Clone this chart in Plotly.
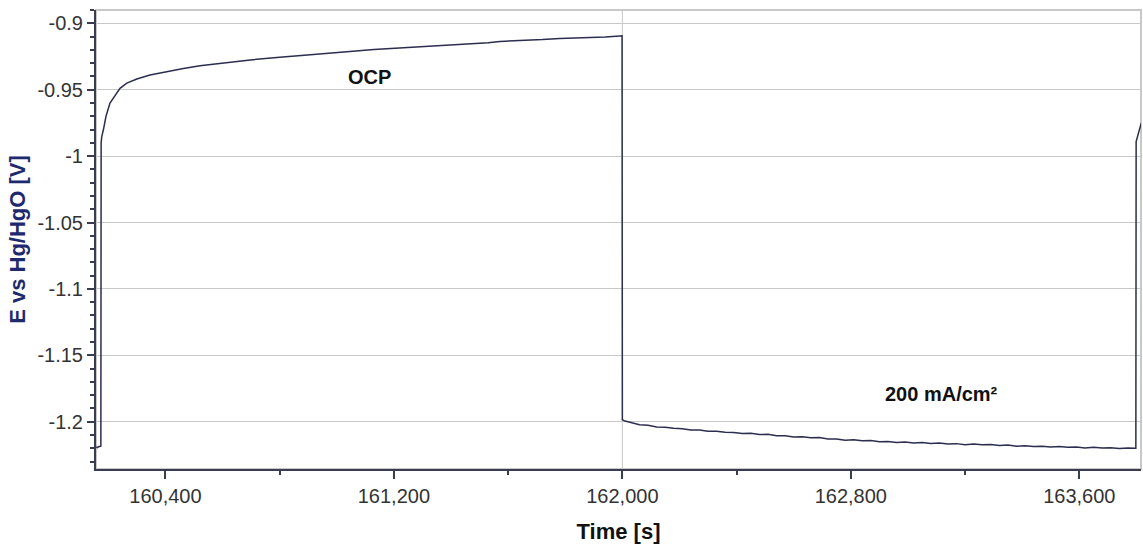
import plotly.graph_objects as go

# OCP (rest) segment
ocp_time = [160158, 160162, 160166, 160170, 160174, 160175, 160177, 160183, 160192, 160206,
            160224, 160241, 160265, 160300, 160346, 160405, 160463, 160521, 160600, 160697,
            160790, 160871, 160960, 161046, 161130, 161221, 161310, 161396, 161440, 161480,
            161530, 161571, 161620, 161660, 161720, 161781, 161830, 161880, 161940, 161991, 161999]
ocp_potential = [-1.2190, -1.2195, -1.2188, -1.2186, -1.2184, -0.9900, -0.9855, -0.9800, -0.9700, -0.9600,
                 -0.9540, -0.9490, -0.9450, -0.9420, -0.9390, -0.9364, -0.9340, -0.9320, -0.9300, -0.9276,
                 -0.9258, -0.9242, -0.9225, -0.9212, -0.9197, -0.9186, -0.9172, -0.9160, -0.9156, -0.9150,
                 -0.9146, -0.9137, -0.9133, -0.9127, -0.9123, -0.9114, -0.9112, -0.9106, -0.9103, -0.9096, -0.9095]

# 200 mA/cm2 segment
load_time = [162000, 162009, 162030, 162060, 162090, 162120, 162150, 162180, 162210, 162240,
             162270, 162300, 162330, 162360, 162390, 162420, 162450, 162480, 162510, 162540,
             162570, 162600, 162630, 162660, 162690, 162720, 162750, 162780, 162810, 162840,
             162870, 162900, 162930, 162960, 162990, 163020, 163050, 163080, 163110, 163140,
             163170, 163200, 163230, 163260, 163290, 163320, 163350, 163380, 163410, 163440,
             163470, 163500, 163530, 163560, 163590, 163620, 163650, 163680, 163710, 163740,
             163770, 163798]
load_potential = [-1.1985, -1.1995, -1.2006, -1.2023, -1.2027, -1.2039, -1.2041, -1.2050, -1.2053, -1.2063,
                  -1.2062, -1.2072, -1.2071, -1.2080, -1.2081, -1.2089, -1.2087, -1.2096, -1.2095, -1.2105,
                  -1.2106, -1.2115, -1.2113, -1.2120, -1.2119, -1.2130, -1.2131, -1.2139, -1.2136, -1.2144,
                  -1.2141, -1.2151, -1.2149, -1.2157, -1.2153, -1.2160, -1.2157, -1.2164, -1.2161, -1.2167,
                  -1.2165, -1.2173, -1.2168, -1.2174, -1.2172, -1.2179, -1.2176, -1.2184, -1.2180, -1.2187,
                  -1.2184, -1.2190, -1.2187, -1.2192, -1.2190, -1.2197, -1.2192, -1.2198, -1.2196, -1.2201,
                  -1.2198, -1.2200]

# next rest segment start
rest2_time = [163799, 163817]
rest2_potential = [-0.9890, -0.9750]

x_tickvals = [160400, 161200, 162000, 162800, 163600]
x_ticktext = ["160,400", "161,200", "162,000", "162,800", "163,600"]
y_tickvals = [-0.9, -0.95, -1.0, -1.05, -1.1, -1.15, -1.2]
y_ticktext = ["-0.9", "-0.95", "-1", "-1.05", "-1.1", "-1.15", "-1.2"]

marker_time = 162000
x_range = [160157, 163816]
y_range = [-1.2356, -0.8900]

FONT = "Arial, 'Liberation Sans', sans-serif"

time = ocp_time + load_time + rest2_time
potential = ocp_potential + load_potential + rest2_potential

fig = go.Figure()
fig.add_trace(go.Scatter(x=time, y=potential, mode="lines",
                         line=dict(color="#2b2e4e", width=1.5), showlegend=False,
                         hoverinfo="skip"))

fig.add_shape(type="rect", xref="paper", yref="paper", x0=0, x1=1, y0=0, y1=1,
              line=dict(color="#c8c8c8", width=2), layer="below")
fig.add_shape(type="line", xref="x", yref="paper", x0=marker_time, x1=marker_time, y0=0, y1=1,
              line=dict(color="#c8c8c8", width=1), layer="below")

fig.add_annotation(x=161116, y=-0.9404, text="<b>OCP</b>", showarrow=False,
                   font=dict(family=FONT, size=20, color="#111111"))
fig.add_annotation(x=163118, y=-1.1795, text="<b>200 mA/cm²</b>", showarrow=False,
                   font=dict(family=FONT, size=20, color="#111111"))

fig.update_layout(
    width=1143, height=551,
    margin=dict(l=96, r=2, t=10, b=82),
    paper_bgcolor="white", plot_bgcolor="white",
    xaxis=dict(range=x_range, tickvals=x_tickvals, ticktext=x_ticktext,
               showgrid=False, zeroline=False,
               showline=True, linecolor="#3a3c50", linewidth=2,
               ticks="outside", ticklen=8, tickwidth=1.5, tickcolor="#3a3c50",
               minor=dict(dtick=400, tick0=160400, ticks="outside", ticklen=4,
                          tickcolor="#3a3c50", tickwidth=1.5, showgrid=False),
               tickfont=dict(family=FONT, size=20, color="#333333"),
               title=dict(text="<b>Time [s]</b>", standoff=18,
                          font=dict(family=FONT, size=22, color="#111111"))),
    yaxis=dict(range=y_range, tickvals=y_tickvals, ticktext=y_ticktext,
               showgrid=True, gridcolor="#c8c8c8", gridwidth=1, zeroline=False,
               showline=True, linecolor="#3a3c50", linewidth=2,
               ticks="outside", ticklen=7, tickwidth=1.5, tickcolor="#3a3c50",
               minor=dict(dtick=0.01, tick0=-0.9, ticks="outside", ticklen=4,
                          tickcolor="#3a3c50", tickwidth=1.5, showgrid=False),
               tickfont=dict(family=FONT, size=20, color="#333333"),
               title=dict(text="<b>E vs Hg/HgO [V]</b>", standoff=6,
                          font=dict(family=FONT, size=22, color="#1f2a6e"))),
)

fig.write_html("out.html")
